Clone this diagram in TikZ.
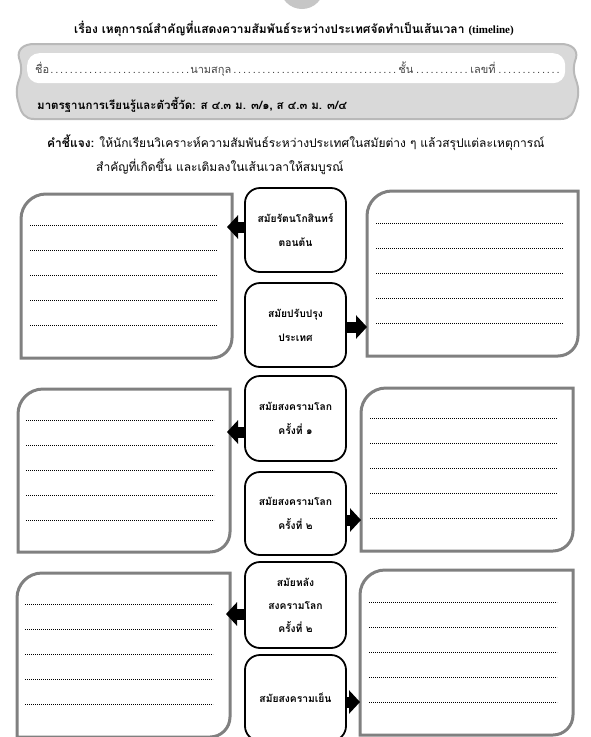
\documentclass[tikz,border=0pt]{standalone}
\usepackage{fontspec}
\setmainfont{Liberation Serif}
\newfontfamily\thai[Script=Thai]{Loma}
\usetikzlibrary{arrows.meta,calc}
\definecolor{panelgray}{RGB}{217,217,217}
\definecolor{paneledge}{RGB}{185,185,185}
\definecolor{boxgray}{RGB}{128,128,128}
\definecolor{nametext}{RGB}{70,70,70}
\tikzset{
  x=1pt, y=-1pt,
  period/.style={draw=black, line width=1.8pt, rounded corners=15pt, align=center,
    font=\thai\bfseries\fontsize{10.3}{24}\selectfont, inner sep=0pt},
  answerbox/.style={draw=boxgray, line width=3pt},
  dotline/.style={line width=0.6pt, dash pattern=on 0.6pt off 1.4pt},
  barrow/.style={line width=11pt, -{Triangle[length=11pt,width=23pt]}},
}
\newcommand{\answerpanel}[5]{% name, x1, y1, x2, y2
  \draw[answerbox] (#2,#5) -- (#2,#3+25) arc (180:270:25) -- (#4,#3) -- (#4,#5-20) arc (0:90:20) -- cycle;
  \coordinate (#1-nw) at (#2,#3);
  \coordinate (#1-se) at (#4,#5);
}
\begin{document}
\begin{tikzpicture}
\useasboundingbox (0,0) rectangle (591,737);
% top circle
\fill[gray!45] (302,-13) circle (22);
% title
\node[font=\thai\bfseries\fontsize{12}{14}\selectfont, anchor=base] (title) at (294,33)
  {เรื่อง เหตุการณ์สำคัญที่แสดงความสัมพันธ์ระหว่างประเทศจัดทำเป็นเส้นเวลา {\rmfamily\bfseries\fontsize{11}{14}\selectfont(timeline)}};
% header panel (wavy edged banner)
\draw[fill=panelgray, draw=paneledge, line width=2pt]
  (34,44) -- (561,44)
  .. controls (572,44) and (578,50) .. (576,58)
  .. controls (573,66) and (573,72) .. (576,80)
  .. controls (579,88) and (579,96) .. (576,104)
  .. controls (574,113) and (570,119) .. (561,119)
  -- (34,119)
  .. controls (25,119) and (21,113) .. (19,104)
  .. controls (16,96) and (16,88) .. (19,80)
  .. controls (22,72) and (22,66) .. (19,58)
  .. controls (17,50) and (23,44) .. (34,44) -- cycle;
\node[fill=white, draw=none, rounded corners=12pt, minimum width=538pt, minimum height=30pt, anchor=north west] (nameline) at (27,53) {};
\node[anchor=west, font=\thai\fontsize{11}{13}\selectfont, text=nametext, inner sep=0pt] (nametxt) at (35,69)
  {\makebox[155pt][l]{ชื่อ\dotfill}\makebox[208pt][l]{นามสกุล\dotfill}\makebox[72pt][l]{ชั้น\dotfill}\makebox[92pt][l]{เลขที่\dotfill}};
\node[anchor=base west, font=\thai\bfseries\fontsize{11.5}{14}\selectfont, inner sep=0pt] (std) at (37,109)
  {มาตรฐานการเรียนรู้และตัวชี้วัด: ส ๔.๓ ม. ๓/๑, ส ๔.๓ ม. ๓/๔};
% instructions
\node[anchor=base west, font=\thai\fontsize{12}{14}\selectfont, inner sep=0pt] (instr1) at (47,147)
  {\textbf{คำชี้แจง:} ให้นักเรียนวิเคราะห์ความสัมพันธ์ระหว่างประเทศในสมัยต่าง ๆ แล้วสรุปแต่ละเหตุการณ์};
\node[anchor=base west, font=\thai\fontsize{12}{14}\selectfont, inner sep=0pt] (instr2) at (96,171)
  {สำคัญที่เกิดขึ้น และเติมลงในเส้นเวลาให้สมบูรณ์};
% center period boxes
\node[period, minimum width=101pt, minimum height=84pt] (p1) at (295.5,230) {สมัยรัตนโกสินทร์\\ตอนต้น};
\node[period, minimum width=101pt, minimum height=84pt] (p2) at (295.5,325) {สมัยปรับปรุง\\ประเทศ};
\node[period, minimum width=101pt, minimum height=85pt] (p3) at (295.5,418.5) {สมัยสงครามโลก\\ครั้งที่ ๑};
\node[period, minimum width=101pt, minimum height=83pt] (p4) at (295.5,513.5) {สมัยสงครามโลก\\ครั้งที่ ๒};
\node[period, minimum width=101pt, minimum height=86pt, font=\thai\bfseries\fontsize{10.3}{23}\selectfont] (p5) at (295.5,605) {สมัยหลัง\\สงครามโลก\\ครั้งที่ ๒};
\node[period, minimum width=101pt, minimum height=86pt] (p6) at (295.5,698) {สมัยสงครามเย็น};
% answer panels
\answerpanel{L1}{21}{194}{232}{358}
\answerpanel{R1}{367}{191}{578}{356}
\answerpanel{L2}{18}{389}{230}{552}
\answerpanel{R2}{361}{388}{573}{551}
\answerpanel{L3}{17}{573}{230}{737}
\answerpanel{R3}{360}{570}{573}{735}
% dotted lines
\foreach \k in {0,...,4}{
  \draw[dotline] (30,225+25*\k) -- (217,225+25*\k);
  \draw[dotline] (376,223+25*\k) -- (563,223+25*\k);
  \draw[dotline] (26,420+25*\k) -- (214,420+25*\k);
  \draw[dotline] (370,418+25*\k) -- (557,418+25*\k);
  \draw[dotline] (25,604+25*\k) -- (213,604+25*\k);
  \draw[dotline] (369,602+25*\k) -- (557,602+25*\k);
}
% arrows
\coordinate (a1) at (227,227);
\coordinate (a2) at (367,327);
\coordinate (a3) at (227,432);
\coordinate (a4) at (361,520);
\coordinate (a5) at (226,614);
\coordinate (a6) at (360,702);
\draw[barrow] (p1.west |- a1) -- (a1);
\draw[barrow] (p2.east |- a2) -- (a2);
\draw[barrow] (p3.west |- a3) -- (a3);
\draw[barrow] (p4.east |- a4) -- (a4);
\draw[barrow] (p5.west |- a5) -- (a5);
\draw[barrow] (p6.east |- a6) -- (a6);
\end{tikzpicture}
\end{document}
